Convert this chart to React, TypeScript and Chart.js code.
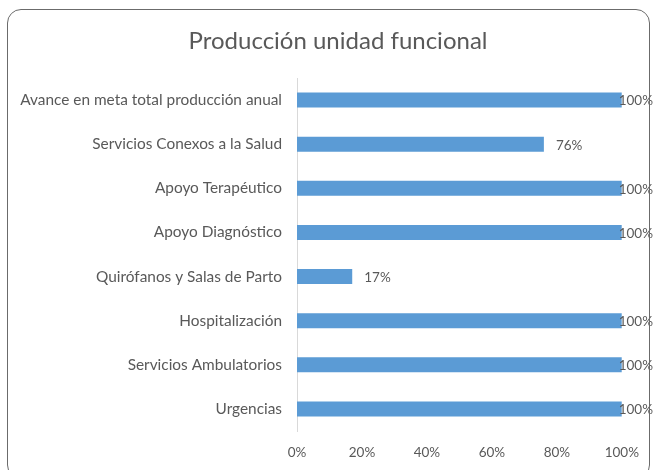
import React, { useEffect, useRef } from "react";
import { Chart, registerables } from "chart.js";

Chart.register(...registerables);

const categories = [
  "Avance en meta total producción anual",
  "Servicios Conexos a la Salud",
  "Apoyo Terapéutico",
  "Apoyo Diagnóstico",
  "Quirófanos y Salas de Parto",
  "Hospitalización",
  "Servicios Ambulatorios",
  "Urgencias",
];
const values = [1.0, 0.76, 1.0, 1.0, 0.17, 1.0, 1.0, 1.0];
const xTicks = [0, 0.2, 0.4, 0.6, 0.8, 1.0];
const titleText = "Producción unidad funcional";

const FONT = "Lato, 'Open Sans', sans-serif";
const TEXT = "#595959";

const titlePlugin = {
  id: "customTitle",
  afterDraw(chart: any) {
    const ctx = chart.ctx;
    ctx.save();
    ctx.font = `24px ${FONT}`;
    ctx.fillStyle = TEXT;
    ctx.textAlign = "center";
    ctx.textBaseline = "middle";
    ctx.fillText(titleText, 338, 41);
    ctx.restore();
  },
};

const labelPlugin = {
  id: "barLabels",
  afterDatasetsDraw(chart: any) {
    const ctx = chart.ctx;
    const meta = chart.getDatasetMeta(0);
    ctx.save();
    ctx.font = `13.5px ${FONT}`;
    ctx.fillStyle = TEXT;
    ctx.textAlign = "left";
    ctx.textBaseline = "middle";
    meta.data.forEach((bar: any, i: number) => {
      const txt = Math.round(values[i] * 100) + "%";
      const w = ctx.measureText(txt).width;
      let x = bar.x + 12;
      const limit = chart.width - w;
      if (x > limit) x = limit;
      ctx.fillText(txt, x, bar.y + 1);
    });
    ctx.restore();
  },
};

export default function App() {
  const ref = useRef<HTMLCanvasElement>(null);
  useEffect(() => {
    if (!ref.current) return;
    const chart = new Chart(ref.current, {
      type: "bar",
      data: {
        labels: categories,
        datasets: [
          {
            data: values,
            backgroundColor: "#5B9BD5",
            borderWidth: 0,
            categoryPercentage: 1,
            barPercentage: 0.34,
          },
        ],
      },
      options: {
        indexAxis: "y",
        animation: false,
        responsive: false,
        maintainAspectRatio: false,
        layout: { padding: { top: 78, right: 30, left: 0, bottom: 0 } },
        plugins: {
          legend: { display: false },
          title: { display: false },
          tooltip: { enabled: false },
        },
        scales: {
          x: {
            min: 0,
            max: 1,
            afterBuildTicks(scale: any) {
              scale.ticks = xTicks.map((v) => ({ value: v }));
            },
            afterFit(scale: any) {
              scale.height = 39;
            },
            grid: { display: false, drawTicks: false },
            border: { display: false },
            ticks: {
              color: TEXT,
              font: { family: FONT, size: 13.5 },
              padding: 14,
              callback: (v: any) => Math.round(Number(v) * 100) + "%",
            },
          },
          y: {
            afterFit(scale: any) {
              scale.width = 297;
            },
            grid: { display: false, drawTicks: false },
            border: { display: true, color: "#d9d9d9", width: 1 },
            ticks: {
              color: TEXT,
              font: { family: FONT, size: 15.4 },
              padding: 15,
            },
          },
        },
      },
      plugins: [titlePlugin, labelPlugin],
    });
    return () => chart.destroy();
  }, []);

  return (
    <div style={{ position: "absolute", left: 0, top: 0, width: 653, height: 470, overflow: "hidden", background: "#fff" }}>
      <canvas ref={ref} width={653} height={470} style={{ position: "absolute", left: 0, top: 0 }} />
      <div
        style={{
          position: "absolute",
          left: 7,
          top: 9,
          width: 643,
          height: 470,
          border: "1.5px solid #6b6b6b",
          borderRadius: 14,
          pointerEvents: "none",
          boxSizing: "border-box",
        }}
      />
    </div>
  );
}
